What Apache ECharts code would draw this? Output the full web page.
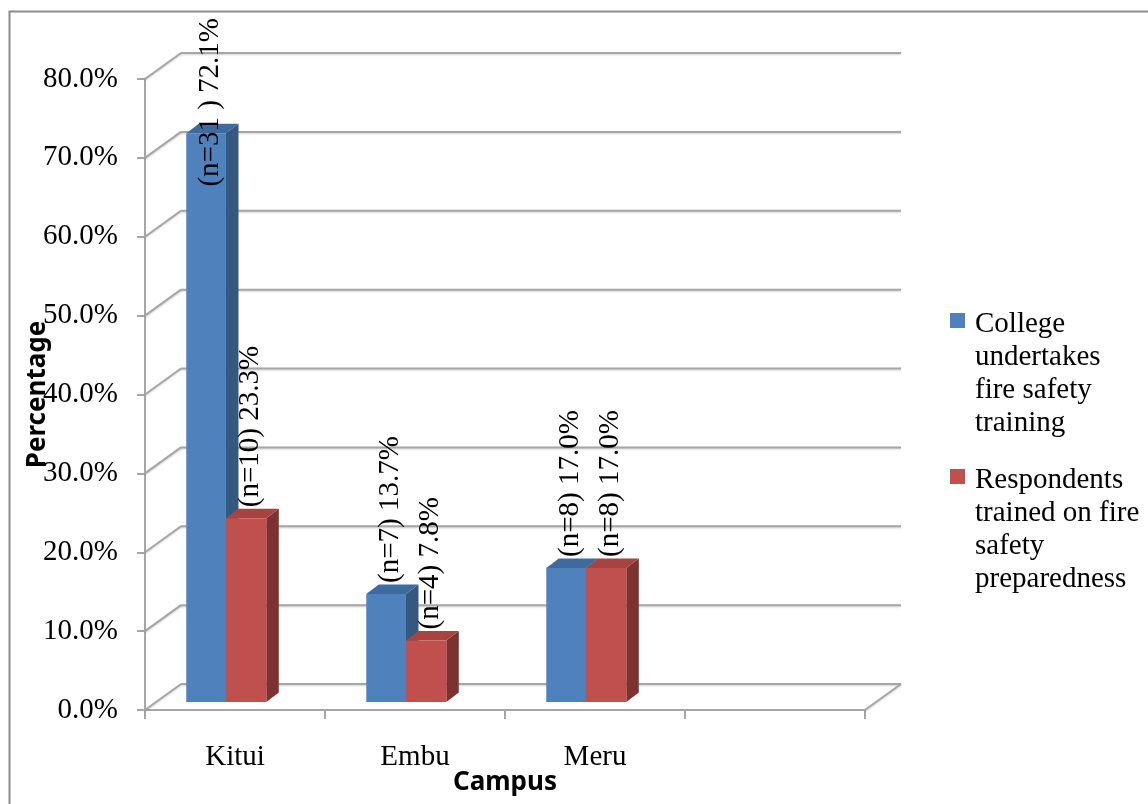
<!DOCTYPE html>
<html>
<head>
<meta charset="utf-8">
<script src="https://cdn.jsdelivr.net/npm/echarts@6/dist/echarts.min.js"></script>
<style>
  html, body { margin: 0; padding: 0; background: #ffffff; }
  #chart { width: 1148px; height: 804px; }
</style>
</head>
<body>
<div id="chart"></div>
<script>
// Campus categories (the fourth slot is an empty category on the axis)
const campuses = ['Kitui', 'Embu', 'Meru', ''];
const seriesNames = [
  'College undertakes fire safety training',
  'Respondents trained on fire safety preparedness'
];
// Percentages per campus
const collegeTraining = [72.1, 13.7, 17.0];
const respondentsTrained = [23.3, 7.8, 17.0];
// Respondent counts shown in the value labels
const collegeCounts = ['(n=31 )', '(n=7)', '(n=8)'];
const respondentCounts = ['(n=10)', '(n=4)', '(n=8)'];
// Value axis ticks (percent)
const percentTicks = [0, 10, 20, 30, 40, 50, 60, 70, 80];
// Legend text, wrapped as it is drawn
const legendLines = [
  ['College', 'undertakes', 'fire safety', 'training'],
  ['Respondents', 'trained on fire', 'safety', 'preparedness']
];

const SERIF = '"Liberation Serif", "Times New Roman", serif';
const SANS = '"Noto Sans", "Open Sans", sans-serif';
const FONT_SIZE = 29;

// 3D look: offset of the back wall relative to the front plane
const WALL_DX = 36, WALL_DY = -26;
// bars sit a little behind the front plane
const BAR_LIFT = 8;
const BAR_DX = 12.5, BAR_DY = -9.5;
// bar faces relative to category centre, as fractions of band width
const BAR_EDGES = [[-0.2707, -0.0501], [-0.0501, 0.1738]];
const FACE = [
  { front: '#4f81bd', top: '#3e6b9f', side: '#34587f' },
  { front: '#c0504d', top: '#a9433f', side: '#7e3230' }
];
const GRID_LINE = '#a6a6a6';

const measureCtx = document.createElement('canvas').getContext('2d');
measureCtx.font = FONT_SIZE + 'px ' + SERIF;
function textWidth(t) { return measureCtx.measureText(t).width; }

function wallRenderer(params, api) {
  const cs = params.coordSys;
  const v = api.value(0);
  const y = api.coord([0, v])[1];
  const left = cs.x, right = cs.x + cs.width;
  const lineStyle = {
    stroke: GRID_LINE, lineWidth: 2,
    shadowBlur: 2, shadowColor: 'rgba(0,0,0,0.18)', shadowOffsetY: 1
  };
  const children = [
    { type: 'line', shape: { x1: left, y1: y, x2: left + WALL_DX, y2: y + WALL_DY }, style: lineStyle },
    { type: 'line', shape: { x1: left + WALL_DX, y1: y + WALL_DY, x2: right + WALL_DX, y2: y + WALL_DY }, style: lineStyle }
  ];
  if (v === 0) {
    children.push({ type: 'line', shape: { x1: right, y1: y, x2: right + WALL_DX, y2: y + WALL_DY }, style: lineStyle });
  }
  return { type: 'group', children: children };
}

function barRenderer(k, counts) {
  return function (params, api) {
    const idx = api.value(0), val = api.value(1);
    const top = api.coord([idx, val]);
    const base = api.coord([idx, 0]);
    const bw = api.size([1, 0])[0];
    const cx = top[0];
    const l = cx + BAR_EDGES[k][0] * bw;
    const r = cx + BAR_EDGES[k][1] * bw;
    const yb = base[1] - BAR_LIFT;
    const yt = top[1] - BAR_LIFT;
    const c = FACE[k];
    const label = counts[idx] + ' ' + val.toFixed(1) + '%';
    const len = textWidth(label);
    let anchorY = yt - 11;
    if (anchorY - len < 18) anchorY = 18 + len;
    return {
      type: 'group',
      children: [
        { type: 'polygon', shape: { points: [[r, yb], [r + BAR_DX, yb + BAR_DY], [r + BAR_DX, yt + BAR_DY], [r, yt]] },
          style: { fill: c.side } },
        { type: 'polygon', shape: { points: [[l, yt], [l + BAR_DX, yt + BAR_DY], [r + BAR_DX, yt + BAR_DY], [r, yt]] },
          style: { fill: c.top } },
        { type: 'rect', shape: { x: l, y: yt, width: r - l, height: yb - yt },
          style: { fill: c.front } },
        { type: 'text', x: (l + r) / 2 + 4, y: anchorY, rotation: Math.PI / 2, z2: 100,
          style: { text: label, x: 0, y: 0, font: FONT_SIZE + 'px ' + SERIF, fill: '#000',
                   align: 'left', verticalAlign: 'middle' } }
      ]
    };
  };
}

function legendGraphics() {
  const tops = [313, 469];
  const els = [];
  legendLines.forEach(function (lines, k) {
    els.push({ type: 'rect', left: 950, top: tops[k], shape: { width: 15, height: 15 },
               style: { fill: FACE[k].front } });
    els.push({ type: 'text', left: 975, top: tops[k] - 5,
               style: { text: lines.join('\n'), font: FONT_SIZE + 'px ' + SERIF, fill: '#000', lineHeight: 33 } });
  });
  return els;
}

const chart = echarts.init(document.getElementById('chart'), null, { renderer: 'canvas' });
chart.setOption({
  backgroundColor: '#ffffff',
  animation: false,
  grid: { left: 145, right: 283, top: 79, bottom: 94, containLabel: false, outerBoundsMode: 'none' },
  xAxis: {
    type: 'category',
    data: campuses,
    boundaryGap: true,
    name: 'Campus',
    nameLocation: 'middle',
    nameGap: 60,
    nameMoveOverlap: false,
    nameTextStyle: { fontFamily: SANS, fontWeight: 'bold', fontSize: 26, color: '#000' },
    axisLine: { lineStyle: { color: GRID_LINE, width: 2 } },
    axisTick: { show: true, interval: 0, length: 9, lineStyle: { color: GRID_LINE, width: 2 } },
    axisLabel: { interval: 0, margin: 33, fontFamily: SERIF, fontSize: FONT_SIZE, color: '#000' },
    splitLine: { show: false }
  },
  yAxis: {
    type: 'value',
    min: 0, max: 80, interval: 10,
    name: 'Percentage',
    nameLocation: 'middle',
    nameRotate: 90,
    nameGap: 94,
    nameMoveOverlap: false,
    nameTextStyle: { fontFamily: SANS, fontWeight: 'bold', fontSize: 26, color: '#000' },
    axisLine: { show: true, lineStyle: { color: GRID_LINE, width: 2 } },
    axisTick: { show: true, length: 8, lineStyle: { color: GRID_LINE, width: 2 } },
    axisLabel: { margin: 27, fontFamily: SERIF, fontSize: FONT_SIZE, color: '#000',
                 formatter: function (v) { return v.toFixed(1) + '%'; } },
    splitLine: { show: false }
  },
  series: [
    { type: 'custom', name: 'walls', renderItem: wallRenderer, clip: false, z: 1,
      data: percentTicks.map(function (v) { return [v]; }) },
    { type: 'custom', name: seriesNames[0], renderItem: barRenderer(0, collegeCounts), clip: false, z: 3,
      encode: { x: 0, y: 1 },
      data: collegeTraining.map(function (v, i) { return [i, v]; }) },
    { type: 'custom', name: seriesNames[1], renderItem: barRenderer(1, respondentCounts), clip: false, z: 3,
      encode: { x: 0, y: 1 },
      data: respondentsTrained.map(function (v, i) { return [i, v]; }) }
  ],
  graphic: [
    { type: 'rect', left: 7, top: 9, shape: { width: 1300, height: 900 },
      style: { fill: 'none', stroke: '#8c8c8c', lineWidth: 2 }, z: 0 }
  ].concat(legendGraphics())
});
</script>
</body>
</html>
